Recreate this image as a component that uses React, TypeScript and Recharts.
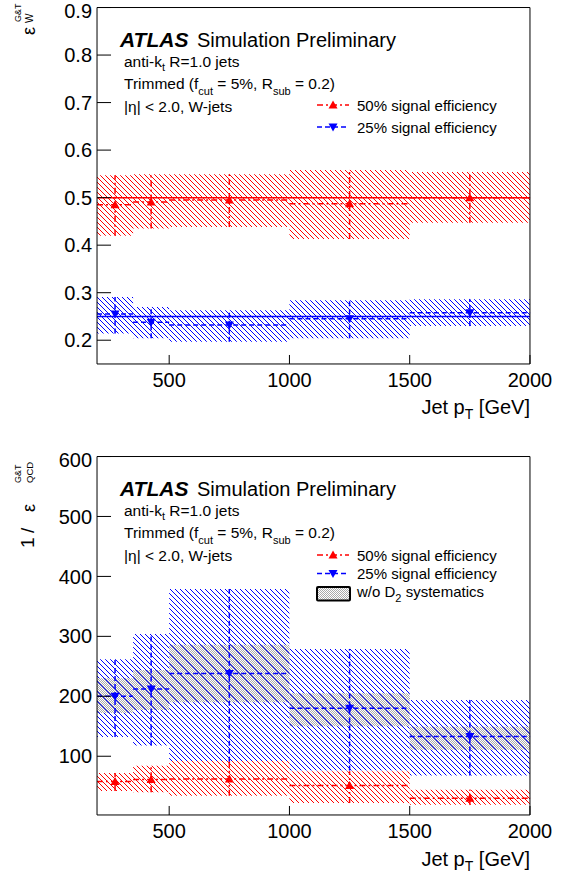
import React from "react";
import {
  ComposedChart,
  Scatter,
  XAxis,
  YAxis,
  ErrorBar,
  ReferenceArea,
  ReferenceLine,
} from "recharts";

const binLo = [200, 350, 500, 1000, 1500];
const binHi = [350, 500, 1000, 1500, 2000];
const binMid = [275, 425, 750, 1250, 1750];

// top panel: W-jet signal efficiency
const sig50 = [0.485, 0.491, 0.495, 0.487, 0.5];
const sig50Lo = [0.42, 0.435, 0.438, 0.413, 0.447];
const sig50Hi = [0.547, 0.549, 0.549, 0.558, 0.554];
const sig25 = [0.255, 0.238, 0.232, 0.245, 0.258];
const sig25Lo = [0.214, 0.204, 0.197, 0.204, 0.23];
const sig25Hi = [0.291, 0.27, 0.263, 0.284, 0.286];
const targetEff = [0.5, 0.25];

// bottom panel: QCD rejection
const rej50 = [58, 61, 62, 51, 30];
const rej50Lo = [42, 40, 34, 22, 19];
const rej50Hi = [72, 84, 92, 75, 44];
const rej25 = [200, 212, 238, 180, 133];
const rej25Lo = [132, 118, 91, 76, 68];
const rej25Hi = [262, 304, 379, 279, 194];
const noD2Lo = [172, 177, 190, 150, 111];
const noD2Hi = [230, 244, 286, 205, 149];

const xDomain = [200, 2000];
const xMajor = [500, 1000, 1500, 2000];
const xMinor = [300, 400, 600, 700, 800, 900, 1100, 1200, 1300, 1400, 1600, 1700, 1800, 1900];

const effDomain = [0.15, 0.9];
const effMajor = [0.2, 0.3, 0.4, 0.5, 0.6, 0.7, 0.8, 0.9];
const effMinor = [
  0.16, 0.18, 0.22, 0.24, 0.26, 0.28, 0.32, 0.34, 0.36, 0.38, 0.42, 0.44, 0.46, 0.48, 0.52,
  0.54, 0.56, 0.58, 0.62, 0.64, 0.66, 0.68, 0.72, 0.74, 0.76, 0.78, 0.82, 0.84, 0.86, 0.88,
];

const rejDomain = [2, 600];
const rejMajor = [100, 200, 300, 400, 500, 600];
const rejMinor = [
  20, 40, 60, 80, 120, 140, 160, 180, 220, 240, 260, 280, 320, 340, 360, 380, 420, 440, 460,
  480, 520, 540, 560, 580,
];

const RED = "#ff0000";
const BLUE = "#0000ff";
const FONT = "'Liberation Sans', Arial, Helvetica, sans-serif";
const RED_DASH = "6 3 2 3";
const BLUE_DASH = "5 3";
const THIN = 0.01; // axes with zero size are not drawn at all

function rows(vals: number[], lo: number[], hi: number[]) {
  return vals.map((v, i) => ({
    x: binMid[i],
    y: v,
    xerr: [binMid[i] - binLo[i], binHi[i] - binMid[i]],
    yerr: [v - lo[i], hi[i] - v],
  }));
}

const UpTri = (p: any) => {
  const { cx, cy } = p;
  return (
    <polygon
      points={`${cx},${cy - 4.5} ${cx + 4.5},${cy + 3.5} ${cx - 4.5},${cy + 3.5}`}
      fill={RED}
    />
  );
};

const DownTri = (p: any) => {
  const { cx, cy } = p;
  return (
    <polygon
      points={`${cx},${cy + 4.5} ${cx + 4.5},${cy - 3.5} ${cx - 4.5},${cy - 3.5}`}
      fill={BLUE}
    />
  );
};

// y tick label; the top one is nudged down so it stays on the page, like ROOT does
function yTick(fmt: (v: number) => string) {
  return (p: any) => (
    <text x={p.x} y={Math.max(p.y, 11)} dy="0.355em" textAnchor="end" fontSize={20}
      fontFamily={FONT} fill="#000">
      {fmt(p.payload.value)}
    </text>
  );
}

// ROOT-style frame: ticks inside on all four sides, minor ticks on extra axes
function frame(yDomain: number[], yMajor: number[], yMinor: number[], yFmt: (v: number) => string) {
  const tickStyle = { fill: "#000", fontSize: 20, fontFamily: FONT };
  const line = { stroke: "#000", strokeWidth: 1 };
  return [
    <XAxis key="xb" xAxisId="b" type="number" dataKey="x" orientation="bottom" domain={xDomain}
      allowDataOverflow ticks={xMajor} interval={0} height={THIN} tickSize={-9} tickMargin={18}
      tick={tickStyle} tickLine={line} axisLine={line} />,
    <XAxis key="xbm" xAxisId="bm" type="number" orientation="bottom" domain={xDomain}
      allowDataOverflow ticks={xMinor} interval={0} height={THIN} tickSize={-4.5}
      tick={false} tickLine={line} axisLine={false} />,
    <XAxis key="xt" xAxisId="t" type="number" orientation="top" domain={xDomain}
      allowDataOverflow ticks={xMajor} interval={0} height={THIN} tickSize={-9}
      tick={false} tickLine={line} axisLine={line} />,
    <XAxis key="xtm" xAxisId="tm" type="number" orientation="top" domain={xDomain}
      allowDataOverflow ticks={xMinor} interval={0} height={THIN} tickSize={-4.5}
      tick={false} tickLine={line} axisLine={false} />,
    <YAxis key="yl" yAxisId="l" type="number" dataKey="y" orientation="left" domain={yDomain}
      allowDataOverflow ticks={yMajor} interval={0} width={THIN} tickSize={-14} tickMargin={19}
      tick={yTick(yFmt)} tickLine={line} axisLine={line} />,
    <YAxis key="ylm" yAxisId="lm" type="number" orientation="left" domain={yDomain}
      allowDataOverflow ticks={yMinor} interval={0} width={THIN} tickSize={-7}
      tick={false} tickLine={line} axisLine={false} />,
    <YAxis key="yr" yAxisId="r" type="number" orientation="right" domain={yDomain}
      allowDataOverflow ticks={yMajor} interval={0} width={THIN} tickSize={-14}
      tick={false} tickLine={line} axisLine={line} />,
    <YAxis key="yrm" yAxisId="rm" type="number" orientation="right" domain={yDomain}
      allowDataOverflow ticks={yMinor} interval={0} width={THIN} tickSize={-7}
      tick={false} tickLine={line} axisLine={false} />,
  ];
}

function boxes(prefix: string, lo: number[], hi: number[], fill: string) {
  return binLo.map((b, i) => (
    <ReferenceArea key={`${prefix}${i}`} xAxisId="b" yAxisId="l" x1={b} x2={binHi[i]}
      y1={lo[i]} y2={hi[i]} fill={fill} fillOpacity={1} stroke="none" ifOverflow="visible" />
  ));
}

function series(data: any[], color: string, dash: string, shape: any) {
  return (
    <Scatter data={data} xAxisId="b" yAxisId="l" shape={shape} isAnimationActive={false}>
      <ErrorBar dataKey="yerr" direction="y" width={0} stroke={color} strokeWidth={1.5}
        strokeDasharray={dash} />
      <ErrorBar dataKey="xerr" direction="x" width={0} stroke={color} strokeWidth={1.5}
        strokeDasharray={dash} />
    </Scatter>
  );
}

function Labels({ dy }: { dy: number }) {
  return (
    <g transform={`translate(0, ${dy})`}>
      <text x={120} y={47} fontSize={21} fontWeight="bold" fontStyle="italic">ATLAS</text>
      <text x={197} y={47} fontSize={20}>Simulation Preliminary</text>
      <text x={124} y={67} fontSize={15.5}>
        anti-k<tspan fontSize={11} dy={4}>t</tspan>
        <tspan dy={-4}> R=1.0 jets</tspan>
      </text>
      <text x={124} y={89} fontSize={15.5}>
        Trimmed (f<tspan fontSize={11} dy={6}>cut</tspan>
        <tspan dy={-6}> = 5%, R</tspan>
        <tspan fontSize={11} dy={6}>sub</tspan>
        <tspan dy={-6}> = 0.2)</tspan>
      </text>
      <text x={124} y={112} fontSize={15.5}>|η| &lt; 2.0, W-jets</text>
    </g>
  );
}

function LegendRow({ y, color, dash, up, label }: any) {
  const cx = 333;
  const tri = up
    ? `${cx},${y - 4.5} ${cx + 4.5},${y + 3.5} ${cx - 4.5},${y + 3.5}`
    : `${cx},${y + 4.5} ${cx + 4.5},${y - 3.5} ${cx - 4.5},${y - 3.5}`;
  return (
    <g>
      <line x1={317} x2={349} y1={y} y2={y} stroke={color} strokeWidth={1.5} strokeDasharray={dash} />
      <polygon points={tri} fill={color} />
      <text x={357} y={y + 5.5} fontSize={15}>{label}</text>
    </g>
  );
}

function XTitle({ y }: { y: number }) {
  return (
    <text x={530} y={y} fontSize={20} textAnchor="end">
      Jet p<tspan fontSize={14} dy={5}>T</tspan>
      <tspan dy={-5}> [GeV]</tspan>
    </text>
  );
}

function Rot({ x, y, size, children }: any) {
  return (
    <text transform={`translate(${x}, ${y}) rotate(-90)`} fontSize={size}>{children}</text>
  );
}

export default function App() {
  const top50 = rows(sig50, sig50Lo, sig50Hi);
  const top25 = rows(sig25, sig25Lo, sig25Hi);
  const bot50 = rows(rej50, rej50Lo, rej50Hi);
  const bot25 = rows(rej25, rej25Lo, rej25Hi);

  return (
    <div style={{ position: "absolute", left: 0, top: 0, width: 564, height: 881, background: "#fff" }}>
      <svg width={0} height={0} style={{ position: "absolute" }}>
        <defs>
          <pattern id="hatchRed" patternUnits="userSpaceOnUse" width={5} height={5}>
            <path d="M-1,-1 L6,6 M-1,4 L1,6 M4,-1 L6,1" stroke={RED} strokeWidth={1} />
          </pattern>
          <pattern id="hatchBlue" patternUnits="userSpaceOnUse" width={5} height={5}>
            <path d="M-1,-1 L6,6 M-1,4 L1,6 M4,-1 L6,1" stroke={BLUE} strokeWidth={1} />
          </pattern>
          <pattern id="stipple" patternUnits="userSpaceOnUse" width={2} height={2}>
            <rect x={0} y={0} width={1} height={1} fill="#aaa" />
            <rect x={1} y={1} width={1} height={1} fill="#aaa" />
          </pattern>
        </defs>
      </svg>

      <div style={{ position: "absolute", left: 0, top: 0 }}>
        <ComposedChart width={564} height={440} margin={{ top: 7.5, right: 34, bottom: 76, left: 97 }}>
          {frame(effDomain, effMajor, effMinor, (v) => v.toFixed(1))}
          {boxes("rb", sig50Lo, sig50Hi, "url(#hatchRed)")}
          {boxes("bb", sig25Lo, sig25Hi, "url(#hatchBlue)")}
          <ReferenceLine xAxisId="b" yAxisId="l" y={targetEff[0]} stroke={RED} strokeWidth={1.5} />
          <ReferenceLine xAxisId="b" yAxisId="l" y={targetEff[1]} stroke={BLUE} strokeWidth={1.5} />
          {series(top50, RED, RED_DASH, UpTri)}
          {series(top25, BLUE, BLUE_DASH, DownTri)}
        </ComposedChart>
      </div>

      <div style={{ position: "absolute", left: 0, top: 449 }}>
        <ComposedChart width={564} height={432} margin={{ top: 7.5, right: 34, bottom: 66, left: 97 }}>
          {frame(rejDomain, rejMajor, rejMinor, (v) => String(v))}
          {boxes("bb", rej25Lo, rej25Hi, "url(#hatchBlue)")}
          {boxes("rb", rej50Lo, rej50Hi, "url(#hatchRed)")}
          {boxes("gb", noD2Lo, noD2Hi, "url(#stipple)")}
          {series(bot25, BLUE, BLUE_DASH, DownTri)}
          {series(bot50, RED, RED_DASH, UpTri)}
        </ComposedChart>
      </div>

      <svg width={564} height={881} style={{ position: "absolute", left: 0, top: 0, pointerEvents: "none" }}
        fontFamily={FONT} fill="#000">
        <Labels dy={0} />
        <LegendRow y={105} color={RED} dash={RED_DASH} up label="50% signal efficiency" />
        <LegendRow y={127} color={BLUE} dash={BLUE_DASH} up={false} label="25% signal efficiency" />
        <XTitle y={414} />
        <Rot x={35} y={35} size={18}>ε</Rot>
        <Rot x={21} y={22} size={9}>G&amp;T</Rot>
        <Rot x={33} y={23} size={10}>W</Rot>

        <Labels dy={449} />
        <LegendRow y={555} color={RED} dash={RED_DASH} up label="50% signal efficiency" />
        <LegendRow y={573.5} color={BLUE} dash={BLUE_DASH} up={false} label="25% signal efficiency" />
        <rect x={317} y={587} width={33} height={13.5} fill="url(#stipple)" stroke="#000" strokeWidth={2} rx={1} />
        <text x={357} y={597} fontSize={15}>
          w/o D<tspan fontSize={11} dy={5}>2</tspan>
          <tspan dy={-5}> systematics</tspan>
        </text>
        <XTitle y={866} />
        <Rot x={34} y={548} size={19}>1</Rot>
        <Rot x={34} y={533} size={19}>/</Rot>
        <Rot x={35} y={512} size={18}>ε</Rot>
        <Rot x={21} y={483} size={9}>G&amp;T</Rot>
        <Rot x={33} y={483} size={9.5}>QCD</Rot>
      </svg>
    </div>
  );
}
